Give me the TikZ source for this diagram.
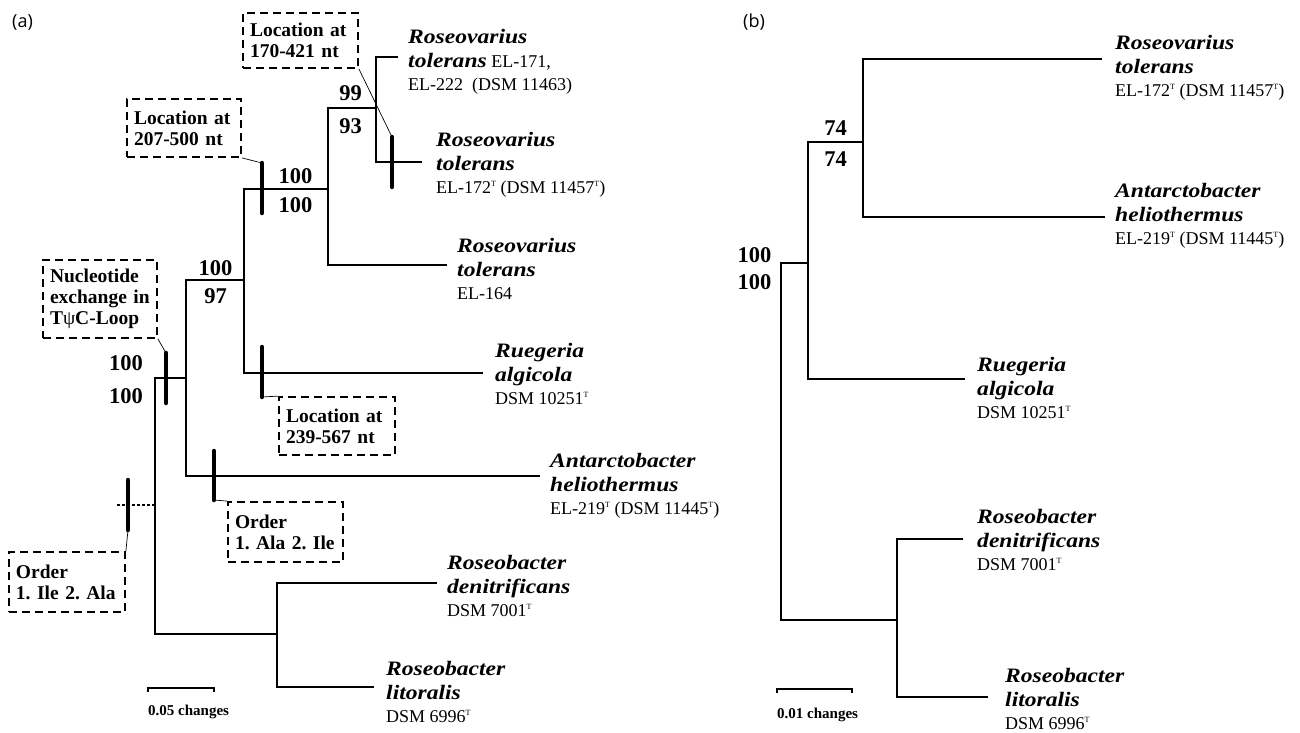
\documentclass[tikz,border=0pt]{standalone}
\usepackage{fontspec}
\usetikzlibrary{calc}
\setmainfont{Liberation Serif}
\newfontfamily\spfam[FakeStretch=1.15]{Liberation Serif}
\newfontfamily\panelfont{Open Sans}
\newcommand{\spn}[1]{{\spfam\bfseries\itshape\fontsize{20.5}{24}\selectfont #1}}
\newcommand{\rmn}[1]{{\fontsize{18}{22}\selectfont #1}}
\newcommand{\supT}{\raisebox{7pt}{\fontsize{8}{8}\selectfont T}}
\newcommand{\taxon}[3]{\vtop{\baselineskip=24.5pt\hbox{\spn{#1}}\hbox{#2}\baselineskip=22.5pt\hbox{\rmn{#3}}}}
\frenchspacing
\tikzset{
  tree/.style={line width=1.8pt, line join=miter},
  tickbar/.style={line width=4.5pt, line cap=round},
  leader/.style={line width=0.7pt},
  stub/.style={line width=1.2pt, dash pattern=on 3pt off 2pt},
  note/.style={draw, line width=1.8pt, dash pattern=on 8pt off 5pt, align=left,
    font=\frenchspacing\bfseries\fontsize{19.5}{21}\selectfont, inner xsep=7pt, inner ysep=0pt},
  boot/.style={anchor=base, inner sep=0pt, font=\bfseries\fontsize{22.5}{24}\selectfont},
  taxlab/.style={anchor=base west, inner sep=0pt},
  scalelab/.style={anchor=base west, inner sep=0pt, font=\bfseries\fontsize{15}{17}\selectfont},
  panel/.style={anchor=base west, inner sep=0pt, font=\panelfont\fontsize{18}{20}\selectfont}
}
\begin{document}
\begin{tikzpicture}[x=1pt,y=-1pt]
\useasboundingbox (0,0) rectangle (1300,732);
\fill[white] (0,0) rectangle (1300,732);

% ---------------- panel (a) ----------------
\node[panel] (pa) at (12,27) {(a)};

\coordinate (A0t) at (155,378); \coordinate (A0b) at (155,634);
\coordinate (A1t) at (186,280); \coordinate (A1b) at (186,476);
\coordinate (A2t) at (244,189); \coordinate (A2b) at (244,373);
\coordinate (A3t) at (328,108); \coordinate (A3b) at (328,265);
\coordinate (A4t) at (376,57);  \coordinate (A4b) at (376,162);
\coordinate (A5t) at (277,583); \coordinate (A5b) at (277,687);
\coordinate (La) at (398,57);  \coordinate (Lb) at (422,162);
\coordinate (Lc) at (447,265); \coordinate (Ld) at (483,373);
\coordinate (Le) at (540,476); \coordinate (Lf) at (437,583);
\coordinate (Lg) at (374,687);
\coordinate (S0) at (117,505);

\draw[tree] (La) -- (A4t) -- (A4b) -- (Lb);
\draw[tree] (A4t |- A3t) -- (A3t) -- (A3b) -- (Lc);
\draw[tree] (A3t |- A2t) -- (A2t) -- (A2b) -- (Ld);
\draw[tree] (A2t |- A1t) -- (A1t) -- (A1b) -- (Le);
\draw[tree] (A1t |- A0t) -- (A0t) -- (A0b) -- (A5t |- A0b);
\draw[tree] (Lf) -- (A5t) -- (A5b) -- (Lg);
\draw[stub] (S0) -- (A0t |- S0);

% tick marks
\coordinate (k1t) at (262,163); \coordinate (k1b) at (262,213);
\coordinate (k2t) at (392,137); \coordinate (k2b) at (392,187);
\coordinate (k3t) at (166,353); \coordinate (k3b) at (166,403);
\coordinate (k4t) at (262,347); \coordinate (k4b) at (262,397);
\coordinate (k5t) at (214,451); \coordinate (k5b) at (214,500);
\coordinate (k6t) at (128,480); \coordinate (k6b) at (128,530);
\foreach \k in {1,...,6} {\draw[tickbar] (k\k t) -- (k\k b);}

% dashed annotation boxes
\node[note, minimum width=115pt, minimum height=55pt, text width=101pt] (b1) at (300.5,40.5) {Location at\\170-421 nt};
\node[note, minimum width=114pt, minimum height=58pt, text width=100pt] (b2) at (184,128) {Location at\\207-500 nt};
\node[note, minimum width=114pt, minimum height=78pt, text width=100pt] (b3) at (100,299) {Nucleotide\\exchange in\\T{\mdseries ψ}C-Loop};
\node[note, minimum width=116pt, minimum height=58pt, text width=102pt] (b4) at (337,426) {Location at\\239-567 nt};
\node[note, minimum width=115pt, minimum height=60pt, text width=101pt] (b5) at (285.5,532) {Order\\1. Ala 2. Ile};
\node[note, minimum width=116pt, minimum height=60pt, text width=102pt] (b6) at (67,582) {Order\\1. Ile 2. Ala};

\draw[leader] (b1.south east) -- (k2t);
\draw[leader] (b2.south east) -- (k1t);
\draw[leader] (b3.south east) -- (k3t);
\draw[leader] (k4b) -- (b4.north west);
\draw[leader] (k5b) -- (b5.north west);
\draw[leader] (b6.north east) -- (k6b);

% bootstrap values
\node[boot] (v1) at (350.5,100) {99};
\node[boot] (v2) at (350.5,133) {93};
\node[boot] (v3) at (295.5,183) {100};
\node[boot] (v4) at (295.5,212) {100};
\node[boot] (v5) at (215.5,275) {100};
\node[boot] (v6) at (215.5,303) {97};
\node[boot] (v7) at (126,370) {100};
\node[boot] (v8) at (126,403) {100};

% taxa
\node[taxlab] (t1) at (408,43) {\taxon{Roseovarius}{\spn{tolerans}\rmn{ EL-171,}}{EL-222\ \ (DSM 11463)}};
\node[taxlab] (t2) at (436,146) {\taxon{Roseovarius}{\spn{tolerans}}{EL-172\supT{} (DSM 11457\supT)}};
\node[taxlab] (t3) at (457,252) {\taxon{Roseovarius}{\spn{tolerans}}{EL-164}};
\node[taxlab] (t4) at (495,357) {\taxon{Ruegeria}{\spn{algicola}}{DSM 10251\supT}};
\node[taxlab] (t5) at (550,467) {\taxon{Antarctobacter}{\spn{heliothermus}}{EL-219\supT{} (DSM 11445\supT)}};
\node[taxlab] (t6) at (447,569) {\taxon{Roseobacter}{\spn{denitrificans}}{DSM 7001\supT}};
\node[taxlab] (t7) at (386,675) {\taxon{Roseobacter}{\spn{litoralis}}{DSM 6996\supT}};

% scale bar
\coordinate (sa1) at (148,688); \coordinate (sa2) at (214,688);
\draw[line width=1.5pt] ($(sa1)+(0,4)$) -- (sa1) -- (sa2) -- ($(sa2)+(0,4)$);
\node[scalelab] (sal) at (148,715) {0.05 changes};

% ---------------- panel (b) ----------------
\node[panel] (pb) at (743,27) {(b)};

\coordinate (B0t) at (781,263); \coordinate (B0b) at (781,620);
\coordinate (B1t) at (808,142); \coordinate (B1b) at (808,379);
\coordinate (B2t) at (863,59);  \coordinate (B2b) at (863,217);
\coordinate (B3t) at (897,539); \coordinate (B3b) at (897,697);
\coordinate (Ma) at (1102,59); \coordinate (Mb) at (1105,217);
\coordinate (Mc) at (965,379); \coordinate (Md) at (963,539);
\coordinate (Me) at (988,697);

\draw[tree] (Ma) -- (B2t) -- (B2b) -- (Mb);
\draw[tree] (B2t |- B1t) -- (B1t) -- (B1b) -- (Mc);
\draw[tree] (B1t |- B0t) -- (B0t) -- (B0b) -- (B3t |- B0b);
\draw[tree] (Md) -- (B3t) -- (B3b) -- (Me);

\node[boot] (w1) at (835.5,135) {74};
\node[boot] (w2) at (835.5,166) {74};
\node[boot] (w3) at (754.5,262) {100};
\node[boot] (w4) at (754.5,289) {100};

\node[taxlab] (u1) at (1115,49) {\taxon{Roseovarius}{\spn{tolerans}}{EL-172\supT{} (DSM 11457\supT)}};
\node[taxlab] (u2) at (1115,197) {\taxon{Antarctobacter}{\spn{heliothermus}}{EL-219\supT{} (DSM 11445\supT)}};
\node[taxlab] (u3) at (977,371) {\taxon{Ruegeria}{\spn{algicola}}{DSM 10251\supT}};
\node[taxlab] (u4) at (977,523) {\taxon{Roseobacter}{\spn{denitrificans}}{DSM 7001\supT}};
\node[taxlab] (u5) at (1005,682) {\taxon{Roseobacter}{\spn{litoralis}}{DSM 6996\supT}};

\coordinate (sb1) at (777,689); \coordinate (sb2) at (852,689);
\draw[line width=1.5pt] ($(sb1)+(0,4)$) -- (sb1) -- (sb2) -- ($(sb2)+(0,4)$);
\node[scalelab] (sbl) at (777,718) {0.01 changes};
\end{tikzpicture}
\end{document}
